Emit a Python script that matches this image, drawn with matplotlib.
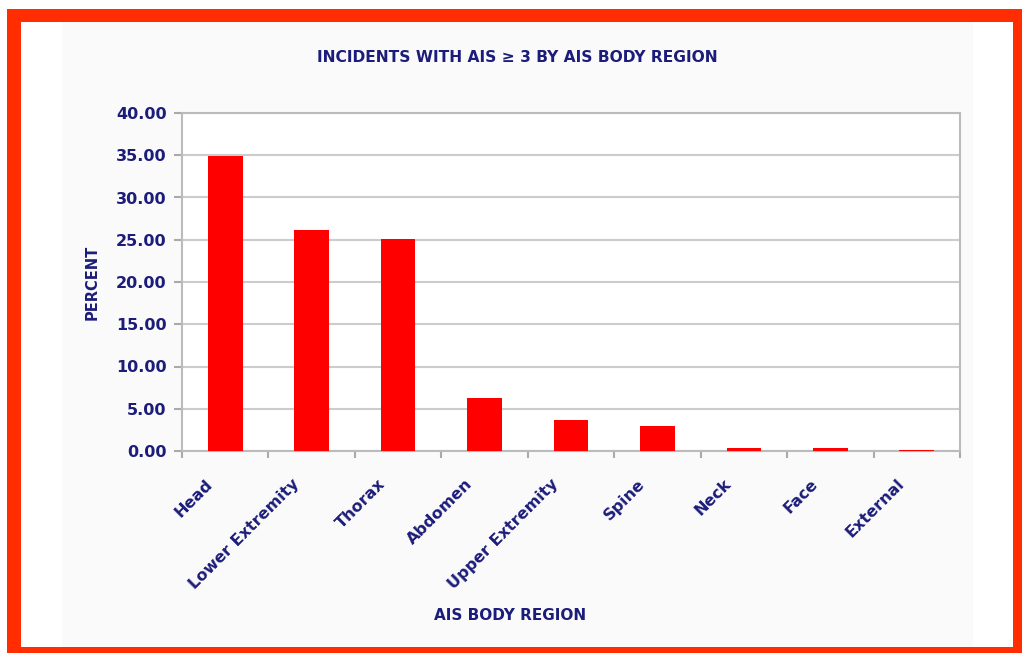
import matplotlib.pyplot as plt
from matplotlib.patches import Rectangle

regions = ["Head", "Lower Extremity", "Thorax", "Abdomen", "Upper Extremity",
           "Spine", "Neck", "Face", "External"]
percent = [34.9, 26.1, 25.1, 6.3, 3.7, 3.0, 0.4, 0.3, 0.15]
y_ticks = [0, 5, 10, 15, 20, 25, 30, 35, 40]

navy = "#1c1c7a"
W, H = 1022, 653

fig = plt.figure(figsize=(W / 100, H / 100), dpi=100)
fig.patch.set_facecolor("white")

# red frame, white inner panel and light chart background
fig.patches.append(Rectangle((7 / W, 0), 1 - 7 / W, (H - 9) / H,
                             transform=fig.transFigure, facecolor="#ff2d00",
                             edgecolor="none", zorder=-3))
fig.patches.append(Rectangle((21 / W, 6 / H), 992 / W, 625 / H,
                             transform=fig.transFigure, facecolor="white",
                             edgecolor="none", zorder=-2))
fig.patches.append(Rectangle((62 / W, 6 / H), 911 / W, 625 / H,
                             transform=fig.transFigure, facecolor="#fafafa",
                             edgecolor="none", zorder=-1))

ax = fig.add_axes([182 / W, 1 - 451 / H, 778 / W, 338 / H])
ax.set_facecolor("white")

x = list(range(len(regions)))
ax.bar(x, percent, width=0.4, color="#ff0000", zorder=3)

ax.set_xlim(-0.5, len(regions) - 0.5)
ax.set_ylim(0, 40)
ax.set_yticks(y_ticks)
ax.set_yticklabels([f"{v:.2f}" for v in y_ticks], fontsize=11.5,
                   fontweight="bold", color=navy)
ax.yaxis.grid(True, color="#cccccc", linewidth=1.5, zorder=0)

# category labels sit a little left of their bars
ax.set_xticks([i - 0.17 for i in x])
ax.set_xticklabels(regions, rotation=45, ha="right", va="center",
                   rotation_mode="anchor", fontsize=11.5, fontweight="bold",
                   color=navy)
ax.tick_params(axis="x", length=0, pad=22)
ax.set_xticks([i - 0.5 for i in range(len(regions) + 1)], minor=True)
ax.tick_params(axis="x", which="minor", length=5, color="#aaaaaa", width=1.5)
ax.tick_params(axis="y", length=6, color="#aaaaaa", width=1.5, pad=5)

for side in ["left", "right", "bottom", "top"]:
    ax.spines[side].set_color("#bbbbbb")
    ax.spines[side].set_linewidth(1.5)

ax.set_ylabel("PERCENT", fontsize=10.5, fontweight="bold", color=navy,
              labelpad=12)
fig.text(510 / W, 1 - 615 / H, "AIS BODY REGION", ha="center", va="center",
         fontsize=11, fontweight="bold", color=navy)
fig.text(517 / W, 1 - 57 / H, "INCIDENTS WITH AIS \u2265 3 BY AIS BODY REGION",
         ha="center", va="center", fontsize=11.2, fontweight="bold", color=navy)

fig.savefig("out.png", dpi=100)
